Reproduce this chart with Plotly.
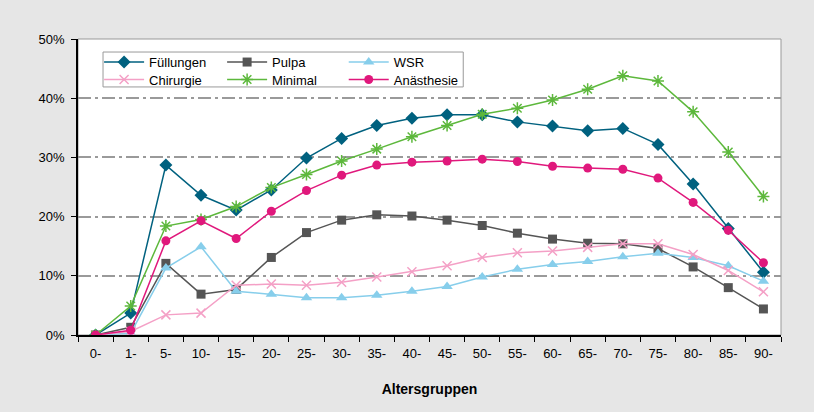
import plotly.graph_objects as go

categories = ["0-", "1-", "5-", "10-", "15-", "20-", "25-", "30-", "35-", "40-",
              "45-", "50-", "55-", "60-", "65-", "70-", "75-", "80-", "85-", "90-"]

fuellungen = [0, 3.7, 28.7, 23.6, 21.1, 24.5, 29.9, 33.2, 35.4, 36.6, 37.2, 37.2, 36.0, 35.3, 34.5, 34.9, 32.2, 25.5, 18.0, 10.6]
pulpa = [0, 1.3, 12.1, 6.9, 7.7, 13.1, 17.3, 19.4, 20.3, 20.1, 19.4, 18.5, 17.2, 16.2, 15.5, 15.4, 14.6, 11.5, 8.0, 4.4]
wsr = [0, 0.3, 11.3, 14.9, 7.4, 6.9, 6.3, 6.3, 6.7, 7.4, 8.2, 9.8, 11.1, 11.9, 12.4, 13.2, 13.8, 13.1, 11.7, 9.1]
chirurgie = [0, 0.6, 3.4, 3.7, 8.4, 8.6, 8.4, 8.9, 9.8, 10.7, 11.7, 13.1, 13.9, 14.2, 14.8, 15.4, 15.4, 13.6, 10.9, 7.3]
minimal = [0, 4.9, 18.4, 19.5, 21.7, 24.9, 27.1, 29.4, 31.4, 33.5, 35.4, 37.3, 38.3, 39.7, 41.5, 43.8, 42.9, 37.7, 30.9, 23.4]
anaesthesie = [0, 0.8, 15.9, 19.3, 16.3, 20.9, 24.4, 27.0, 28.7, 29.2, 29.4, 29.7, 29.3, 28.5, 28.2, 28.0, 26.5, 22.4, 17.7, 12.2]

y_ticks = [0, 10, 20, 30, 40, 50]
y_labels = ["0%", "10%", "20%", "30%", "40%", "50%"]

FONT = "Liberation Sans, Arial, sans-serif"

series = [
    ("Füllungen", fuellungen, "#00617F", dict(symbol="diamond", size=10)),
    ("Pulpa", pulpa, "#555555", dict(symbol="square", size=9)),
    ("WSR", wsr, "#87CEEB", dict(symbol="triangle-up", size=10)),
    ("Chirurgie", chirurgie, "#F4A0C6", dict(symbol="x-thin-open", size=9, line=dict(width=1.5, color="#F4A0C6"))),
    ("Minimal", minimal, "#5DB83C", dict(symbol="asterisk-open", size=10, line=dict(width=1.5, color="#5DB83C"))),
    ("Anästhesie", anaesthesie, "#E0187C", dict(symbol="circle", size=9)),
]

# legend slot positions (paper coords): 3 columns x 2 rows
col_x = [0.03, 0.205, 0.378]
row_y = [0.922, 0.863]

fig = go.Figure()
legend_layouts = {}
for i, (name, vals, color, mk) in enumerate(series):
    m = dict(color=color)
    m.update(mk)
    lg = "legend" if i == 0 else f"legend{i + 1}"
    fig.add_trace(go.Scatter(
        x=categories, y=vals, name=name, mode="lines+markers",
        line=dict(color=color, width=1.5), marker=m, legend=lg))
    legend_layouts[lg] = dict(
        bgcolor="rgba(0,0,0,0)", borderwidth=0,
        font=dict(family=FONT, size=13, color="#000"),
        x=col_x[i % 3], xanchor="left", y=row_y[i // 3], yanchor="middle",
        itemwidth=40)

fig.update_layout(
    width=814, height=412,
    margin=dict(l=78, r=33, t=39, b=77),
    paper_bgcolor="#E6E6E6",
    plot_bgcolor="#FFFFFF",
    font=dict(family=FONT, size=13, color="#000"),
    showlegend=True,
    xaxis=dict(type="category", tickson="boundaries", ticks="outside", ticklen=5,
               tickcolor="#000", showline=True, linecolor="#000", linewidth=1.5,
               showgrid=False, tickfont=dict(size=13), ticklabelstandoff=6,
               title=dict(text="<b>Altersgruppen</b>", font=dict(size=14), standoff=24),
               range=[-0.5, 19.5]),
    yaxis=dict(range=[0, 50], tickvals=y_ticks, ticktext=y_labels, ticks="outside",
               ticklen=5, tickcolor="#000", showline=True, linecolor="#000", linewidth=1.5,
               showgrid=True, gridcolor="#9A9A9A", griddash="13px,4px,3px,4px", gridwidth=1.5,
               zeroline=False, tickfont=dict(size=13), ticklabelstandoff=4),
    shapes=[
        dict(type="rect", xref="paper", yref="paper", x0=0, x1=1, y0=0, y1=1,
             line=dict(color="#999999", width=1), layer="below"),
        dict(type="rect", xref="paper", yref="paper", x0=0.0356, x1=0.548, y0=0.838, y1=0.956,
             line=dict(color="#999999", width=1), fillcolor="#FFFFFF", layer="above"),
    ],
    **legend_layouts,
)

fig.write_html("out.html")
